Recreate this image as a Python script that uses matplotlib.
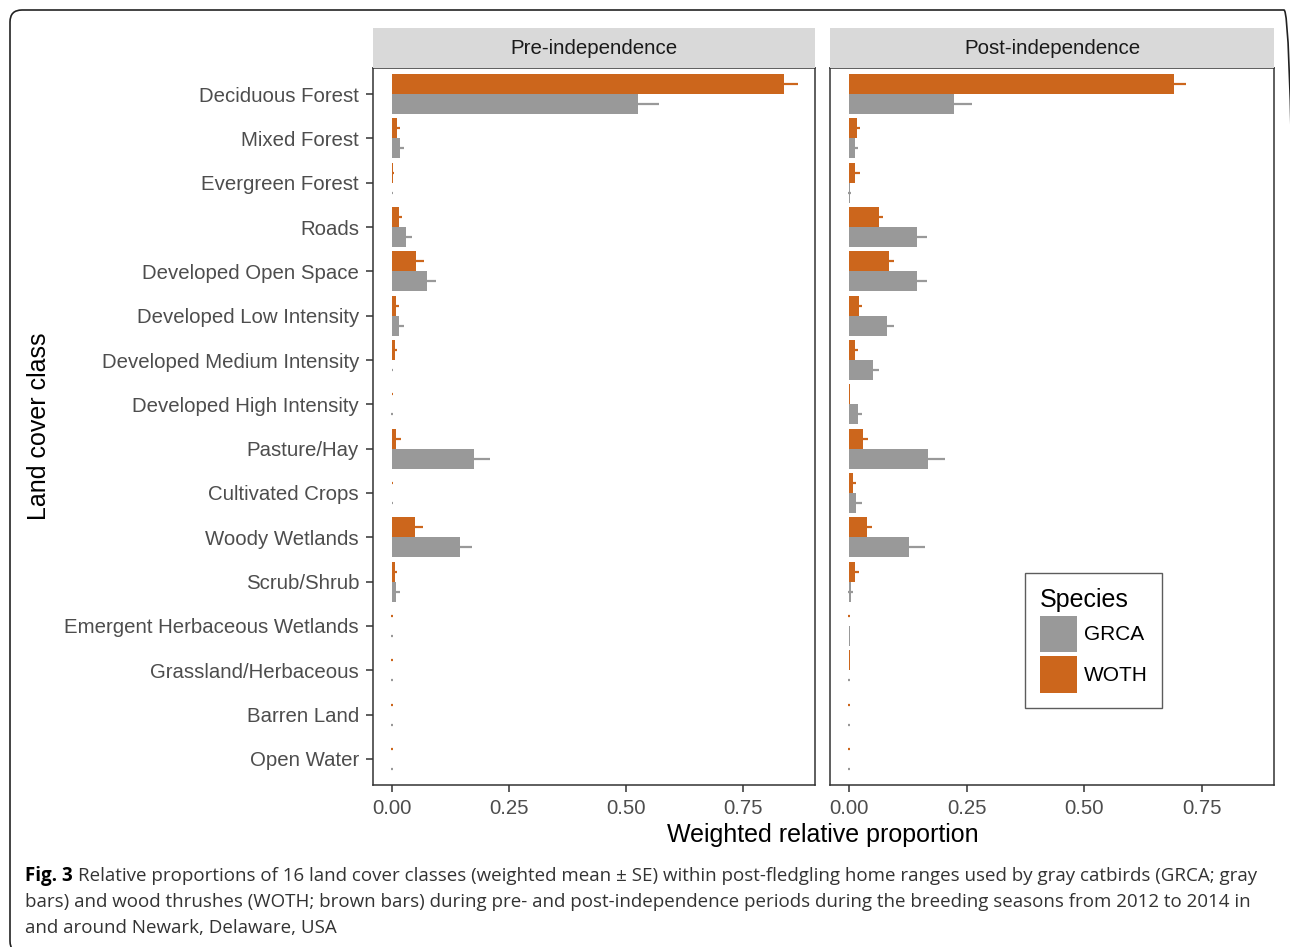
import matplotlib
matplotlib.use('Agg')
import matplotlib.pyplot as plt
from matplotlib.patches import FancyBboxPatch, Patch
from matplotlib.transforms import IdentityTransform
import numpy as np

plt.rcParams['font.family'] = ['Liberation Sans', 'DejaVu Sans']

classes = ['Deciduous Forest', 'Mixed Forest', 'Evergreen Forest', 'Roads',
           'Developed Open Space', 'Developed Low Intensity',
           'Developed Medium Intensity', 'Developed High Intensity',
           'Pasture/Hay', 'Cultivated Crops', 'Woody Wetlands', 'Scrub/Shrub',
           'Emergent Herbaceous Wetlands', 'Grassland/Herbaceous',
           'Barren Land', 'Open Water']

# weighted mean and SE, pre-independence
pre_grca = [0.526, 0.018, 0.001, 0.030, 0.075, 0.016, 0.001, 0.0005,
            0.176, 0.001, 0.145, 0.009, 0.0, 0.0, 0.0, 0.0]
pre_grca_se = [0.045, 0.008, 0.002, 0.012, 0.020, 0.010, 0.002, 0.002,
               0.033, 0.002, 0.026, 0.009, 0.002, 0.002, 0.002, 0.002]
pre_woth = [0.838, 0.010, 0.002, 0.015, 0.052, 0.0085, 0.0057, 0.001,
            0.009, 0.001, 0.049, 0.0057, 0.0, 0.0, 0.0, 0.0]
pre_woth_se = [0.029, 0.007, 0.002, 0.006, 0.017, 0.0075, 0.0057, 0.002,
               0.0096, 0.002, 0.018, 0.0057, 0.002, 0.002, 0.002, 0.002]

# weighted mean and SE, post-independence
post_grca = [0.224, 0.0128, 0.001, 0.144, 0.145, 0.080, 0.050, 0.019,
             0.168, 0.014, 0.128, 0.0035, 0.001, 0.0, 0.0, 0.0]
post_grca_se = [0.037, 0.006, 0.004, 0.022, 0.020, 0.016, 0.014, 0.009,
                0.035, 0.014, 0.034, 0.005, 0.002, 0.002, 0.002, 0.002]
post_woth = [0.691, 0.017, 0.012, 0.063, 0.085, 0.022, 0.012, 0.001,
             0.030, 0.0085, 0.038, 0.0135, 0.0, 0.001, 0.0, 0.0]
post_woth_se = [0.025, 0.007, 0.011, 0.010, 0.010, 0.006, 0.0065, 0.002,
                0.011, 0.007, 0.011, 0.007, 0.002, 0.002, 0.002, 0.002]

panels = ['Pre-independence', 'Post-independence']
xticks = [0.0, 0.25, 0.5, 0.75]
xticklabels = ['0.00', '0.25', '0.50', '0.75']

grey = '#999999'
orange = '#CC661C'
tick_col = '#4d4d4d'
frame_col = '#333333'

W, H = 1290, 947
fig = plt.figure(figsize=(W / 100, H / 100), dpi=100)

def fx(px):
    return px / W

def fy(py):
    return 1 - py / H

# outer rounded frame, in pixels from the bottom-left
frame = FancyBboxPatch((10, -6), 1286, H - 10 + 6,
                       boxstyle='round,pad=0,rounding_size=12',
                       transform=IdentityTransform(), fill=False,
                       edgecolor='#222222', linewidth=1.2, clip_on=False)
fig.patches.append(frame)

y = np.arange(len(classes))
h = 0.45
data = [(pre_grca, pre_grca_se, pre_woth, pre_woth_se),
        (post_grca, post_grca_se, post_woth, post_woth_se)]
lefts = [373, 830]
widths = [442, 444]

axes = []
for i, (name, (g, gse, w, wse)) in enumerate(zip(panels, data)):
    ax = fig.add_axes([fx(lefts[i]), fy(785), fx(widths[i]), fy(68) - fy(785)])
    ax.barh(y + h / 2, g, height=h, color=grey, edgecolor='none')
    ax.barh(y - h / 2, w, height=h, color=orange, edgecolor='none')
    ax.errorbar(g, y + h / 2, xerr=gse, fmt='none', ecolor=grey,
                elinewidth=1.6, capsize=0)
    ax.errorbar(w, y - h / 2, xerr=wse, fmt='none', ecolor=orange,
                elinewidth=1.6, capsize=0)
    ax.set_xlim(-0.0406, 0.904)
    ax.set_ylim(15.587, -0.587)
    ax.set_xticks(xticks)
    ax.set_xticklabels(xticklabels)
    ax.set_yticks(y)
    if i == 0:
        ax.set_yticklabels(classes)
    else:
        ax.tick_params(axis='y', left=False, labelleft=False)
    ax.tick_params(colors=frame_col, labelcolor=tick_col, labelsize=14.7,
                   length=5, width=1.1)
    ax.tick_params(axis='x', pad=5)
    ax.tick_params(axis='y', pad=5)
    for s in ax.spines.values():
        s.set_color(frame_col)
        s.set_linewidth(1.1)

    # facet strip
    sax = fig.add_axes([fx(lefts[i]), fy(68), fx(widths[i]), fy(28) - fy(68)])
    sax.set_facecolor('#d9d9d9')
    sax.set_xticks([])
    sax.set_yticks([])
    for s in sax.spines.values():
        s.set_visible(False)
    sax.text(0.5, 0.5, name, ha='center', va='center', fontsize=14.8,
             color='#1a1a1a', transform=sax.transAxes)
    axes.append(ax)

fig.text(fx(823), fy(835), 'Weighted relative proportion', ha='center',
         va='center', fontsize=18, color='black')
fig.text(fx(39), fy(426), 'Land cover class', ha='center', va='center',
         rotation=90, fontsize=18, color='black')

# legend
handles = [Patch(facecolor=grey, edgecolor='none', label='GRCA'),
           Patch(facecolor=orange, edgecolor='none', label='WOTH')]
leg = fig.legend(handles=handles, title='Species', loc='upper left',
                 bbox_to_anchor=(fx(1025), fy(573)), frameon=True,
                 fancybox=False, edgecolor='#333333', fontsize=15,
                 title_fontsize=18, handlelength=1.78, handleheight=2.35,
                 handletextpad=0.35, labelspacing=0.19, borderpad=0.7,
                 borderaxespad=0)
leg._legend_box.align = 'left'
leg.get_frame().set_linewidth(1.0)

# caption
cap_font = ['Open Sans', 'DejaVu Sans']
cap_size = 13.5
cap_lines = [
    'Relative proportions of 16 land cover classes (weighted mean \u00b1 SE) within post-fledgling home ranges used by gray catbirds (GRCA; gray',
    'bars) and wood thrushes (WOTH; brown bars) during pre- and post-independence periods during the breeding seasons from 2012 to 2014 in',
    'and around Newark, Delaware, USA',
]
cap_y = [876, 902, 928]
bold = fig.text(fx(25), fy(cap_y[0]), 'Fig. 3', fontsize=cap_size,
                family=cap_font, weight='bold', va='center', ha='left')
fig.canvas.draw()
bb = bold.get_window_extent()
x0 = bb.x1 / W + fx(5)
fig.text(x0, fy(cap_y[0]), cap_lines[0], fontsize=cap_size, family=cap_font,
         va='center', ha='left', color='#333333')
for line, yy in zip(cap_lines[1:], cap_y[1:]):
    fig.text(fx(25), fy(yy), line, fontsize=cap_size, family=cap_font,
             va='center', ha='left', color='#333333')

fig.savefig('out.png', dpi=100)
